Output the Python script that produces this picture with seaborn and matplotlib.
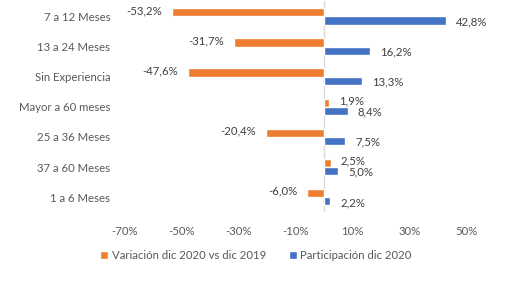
import matplotlib
matplotlib.use('Agg')
import pandas as pd
import matplotlib.pyplot as plt
import seaborn as sns

# Datos
categorias = ['7 a 12 Meses', '13 a 24 Meses', 'Sin Experiencia', 'Mayor a 60 meses',
              '25 a 36 Meses', '37 a 60 Meses', '1 a 6 Meses']
variacion = [-53.2, -31.7, -47.6, 1.9, -20.4, 2.5, -6.0]
participacion = [42.8, 16.2, 13.3, 8.4, 7.5, 5.0, 2.2]
series = ['Variación dic 2020 vs dic 2019', 'Participación dic 2020']
ticks = [-70, -50, -30, -10, 10, 30, 50]

df = pd.DataFrame({
    'categoria': categorias * 2,
    'valor': variacion + participacion,
    'serie': [series[0]] * len(categorias) + [series[1]] * len(categorias),
})

sns.set_style('white')
plt.rcParams['font.family'] = ['Lato', 'DejaVu Sans']
gris = '#595959'
fs = 8.2

fig, ax = plt.subplots(figsize=(5.09, 2.83), dpi=100)
fig.subplots_adjust(left=0.244, right=0.917, top=0.995, bottom=0.25)

sns.barplot(data=df, y='categoria', x='valor', hue='serie', orient='h',
            palette=['#ED7D31', '#4472C4'], width=0.55, saturation=1,
            order=categorias, hue_order=series, ax=ax)

# Etiquetas de datos (naranja un poco arriba, azul un poco abajo)
for i, cont in enumerate(ax.containers):
    etiquetas = [f'{v:.1f}%'.replace('.', ',') for v in cont.datavalues]
    anns = ax.bar_label(cont, labels=etiquetas, padding=7, fontsize=fs, color='#404040')
    dy = 1.2 if i == 0 else -0.8
    for a in anns:
        x_off, y_off = a.xyann
        a.xyann = (x_off, y_off + dy)

ax.set_xlim(-70, 50)
ax.set_xticks(ticks)
ax.set_xticklabels([f'{t}%' for t in ticks], fontsize=fs, color=gris)
ax.tick_params(axis='y', labelsize=fs, labelcolor=gris, length=0, pad=10)
ax.tick_params(axis='x', length=0, pad=10)
ax.set_xlabel('')
ax.set_ylabel('')
for s in ax.spines.values():
    s.set_visible(False)
ax.axvline(0, color='#d9d9d9', lw=1, zorder=0)

ax.legend(loc='upper center', bbox_to_anchor=(0.385, -0.13), ncol=2, frameon=False,
          fontsize=fs, labelcolor=gris, handlelength=0.7, handleheight=0.7,
          handletextpad=0.3, columnspacing=2.0)

fig.savefig('out.png', dpi=100)
